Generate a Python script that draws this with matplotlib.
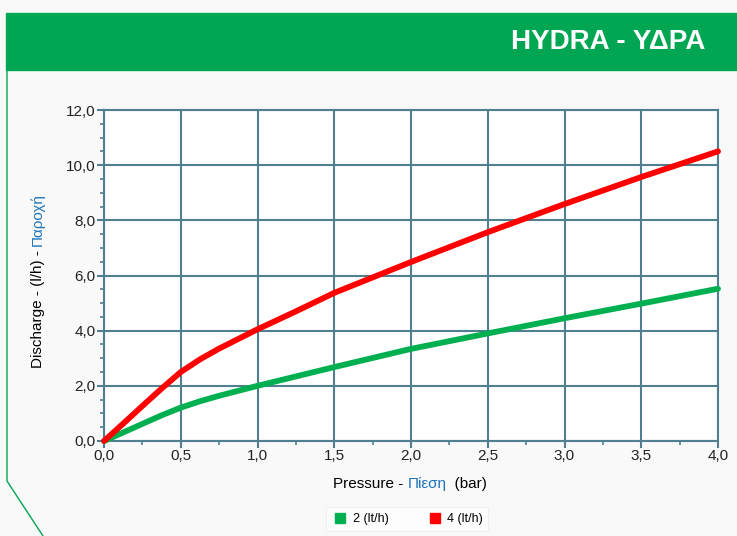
import matplotlib
matplotlib.use('Agg')
import matplotlib.pyplot as plt
from matplotlib.ticker import MultipleLocator, FuncFormatter
from matplotlib.patches import Rectangle
from matplotlib.lines import Line2D

plt.rcParams['font.family'] = ['Liberation Sans', 'DejaVu Sans']

TITLE = 'HYDRA - ΥΔΡΑ'
pressure = [0.0, 0.125, 0.25, 0.375, 0.5, 0.625, 0.75, 1.0, 1.25, 1.5, 2.0, 2.5, 3.0, 3.5, 4.0]
flow_2 = [0.0, 0.31, 0.62, 0.93, 1.21, 1.44, 1.64, 2.0, 2.34, 2.68, 3.34, 3.9, 4.45, 4.98, 5.52]
flow_4 = [0.0, 0.63, 1.27, 1.9, 2.5, 2.96, 3.35, 4.05, 4.7, 5.37, 6.49, 7.57, 8.59, 9.57, 10.5]
series_labels = ['2 (lt/h)', '4 (lt/h)']

GREEN = '#00b050'
RED = '#ff0000'
GRID = '#4f7f90'
BLUE = '#1b75bc'
BG = '#f9f9f9'

fig = plt.figure(figsize=(7.37, 5.36), dpi=100)
fig.patch.set_facecolor(BG)

# header band
fig.patches.append(Rectangle((6 / 737, 1 - 70 / 536), 1, 57 / 536,
                             transform=fig.transFigure, color='#00a651', zorder=0))
fig.text(705 / 737, 1 - 42 / 536, TITLE, color='white', fontsize=20, fontweight='bold',
         ha='right', va='center')
# thin green frame on the left
fig.lines.append(Line2D([7 / 737, 7 / 737, 43 / 737],
                        [1 - 70 / 536, 1 - 481 / 536, 0],
                        transform=fig.transFigure, color='#00a651', lw=1.0))

ax = fig.add_axes([104 / 737, 1 - 441 / 536, 614 / 737, 331 / 536])
ax.set_facecolor('white')
ax.plot(pressure, flow_2, color=GREEN, lw=4.2, solid_capstyle='round',
        solid_joinstyle='round', zorder=3, clip_on=False)
ax.plot(pressure, flow_4, color=RED, lw=4.2, solid_capstyle='round',
        solid_joinstyle='round', zorder=3, clip_on=False)

ax.set_xlim(0, 4)
ax.set_ylim(0, 12)
ax.xaxis.set_major_locator(MultipleLocator(0.5))
ax.xaxis.set_minor_locator(MultipleLocator(0.25))
ax.yaxis.set_major_locator(MultipleLocator(2))
ax.yaxis.set_minor_locator(MultipleLocator(0.5))
fmt = FuncFormatter(lambda v, p: f'{v:.1f}'.replace('.', ','))
ax.xaxis.set_major_formatter(fmt)
ax.yaxis.set_major_formatter(fmt)
ax.grid(True, which='major', color=GRID, lw=1.5)
ax.set_axisbelow(True)
for s in ax.spines.values():
    s.set_color(GRID)
    s.set_linewidth(1.5)
ax.tick_params(which='major', length=5, width=1.5, color=GRID, labelsize=11,
               labelcolor='#222222', pad=1)
ax.tick_params(which='minor', length=3, width=1.2, color=GRID)

# axis titles with the Greek part in blue
fig.canvas.draw()
renderer = fig.canvas.get_renderer()


def colored_label(parts, x, y, rotation=0):
    texts = [fig.text(0, 0, s, color=c, fontsize=11, rotation=rotation) for s, c in parts]
    sizes = [t.get_window_extent(renderer) for t in texts]
    W, H = fig.bbox.width, fig.bbox.height
    if rotation == 0:
        total = sum(b.width for b in sizes)
        pos = x * W - total / 2
        for t, b in zip(texts, sizes):
            t.set_position((pos / W, y))
            t.set_va('center')
            pos += b.width
    else:
        total = sum(b.height for b in sizes)
        pos = y * H - total / 2
        for t, b in zip(texts, sizes):
            t.set_position((x, pos / H))
            t.set_ha('center')
            pos += b.height


colored_label([('Pressure - ', 'black'), ('Πίεση', BLUE), ('  (bar)', 'black')],
              410 / 737, 1 - 484 / 536)
colored_label([('Discharge - (l/h) - ', 'black'), ('Παροχή', BLUE)],
              38 / 737, 1 - 278 / 536, rotation=90)

# legend box
handles = [Line2D([], [], marker='s', ls='none', color=GREEN, markersize=7),
           Line2D([], [], marker='s', ls='none', color=RED, markersize=7)]
leg = fig.legend(handles, series_labels, loc='center', bbox_to_anchor=(407 / 737, 1 - 519 / 536),
                 ncol=2, fontsize=9, frameon=True, fancybox=False, handletextpad=0.3,
                 columnspacing=3.0, borderpad=0.45, borderaxespad=0, handlelength=1.4,
                 handleheight=1.0)
leg.get_frame().set_edgecolor('#eeeeee')
leg.get_frame().set_linewidth(0.8)
leg.get_frame().set_facecolor('white')

fig.savefig('out.png', dpi=100, facecolor=BG)
